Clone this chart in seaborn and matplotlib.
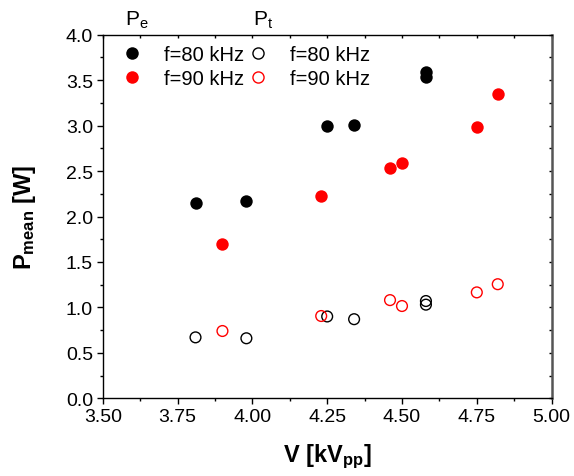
import matplotlib
matplotlib.use("Agg")
import matplotlib.pyplot as plt
import seaborn as sns
import pandas as pd
from matplotlib.lines import Line2D
from matplotlib.ticker import MultipleLocator, FormatStrFormatter

sns.set_theme(style="ticks")
plt.rcParams['font.family'] = ['Liberation Sans', 'DejaVu Sans']
plt.rcParams['mathtext.fontset'] = 'custom'
plt.rcParams['mathtext.rm'] = 'Liberation Sans'
plt.rcParams['mathtext.it'] = 'Liberation Sans'
plt.rcParams['mathtext.bf'] = 'Liberation Sans:bold'
plt.rcParams['text.color'] = 'black'
plt.rcParams['axes.labelcolor'] = 'black'

# Pe (filled) data
v_pe80 = [3.81, 3.98, 4.25, 4.34, 4.58, 4.58]
p_pe80 = [2.15, 2.17, 3.00, 3.01, 3.59, 3.54]
v_pe90 = [3.90, 4.23, 4.46, 4.50, 4.75, 4.82]
p_pe90 = [1.70, 2.23, 2.53, 2.59, 2.98, 3.35]
# Pt (open) data
v_pt80 = [3.81, 3.98, 4.25, 4.34, 4.58, 4.58]
p_pt80 = [0.67, 0.66, 0.90, 0.87, 1.07, 1.03]
v_pt90 = [3.90, 4.23, 4.46, 4.50, 4.75, 4.82]
p_pt90 = [0.74, 0.905, 1.08, 1.015, 1.165, 1.255]

labels = ["f=80 kHz", "f=90 kHz"]

fig = plt.figure(figsize=(5.74, 4.77), dpi=100)
ax = fig.add_axes([0.179, 0.163, 0.782, 0.762])

df_pe80 = pd.DataFrame({"V": v_pe80, "P": p_pe80})
df_pe90 = pd.DataFrame({"V": v_pe90, "P": p_pe90})
df_pt80 = pd.DataFrame({"V": v_pt80, "P": p_pt80})
df_pt90 = pd.DataFrame({"V": v_pt90, "P": p_pt90})

sns.scatterplot(data=df_pe80, x="V", y="P", ax=ax, color="black", s=80, linewidth=0, zorder=3)
sns.scatterplot(data=df_pe90, x="V", y="P", ax=ax, color="#ff0000", s=80, linewidth=0, zorder=3)
sns.scatterplot(data=df_pt80, x="V", y="P", ax=ax, facecolor="none", edgecolor="black", s=60, linewidth=1.0, zorder=3)
sns.scatterplot(data=df_pt90, x="V", y="P", ax=ax, facecolor="none", edgecolor="#ff0000", s=60, linewidth=1.0, zorder=3)

ax.set_xlim(3.5, 5.0)
ax.set_ylim(0.0, 4.0)
ax.xaxis.set_major_locator(MultipleLocator(0.25))
ax.xaxis.set_minor_locator(MultipleLocator(0.125))
ax.yaxis.set_major_locator(MultipleLocator(0.5))
ax.yaxis.set_minor_locator(MultipleLocator(0.25))
ax.xaxis.set_major_formatter(FormatStrFormatter("%.2f"))
ax.yaxis.set_major_formatter(FormatStrFormatter("%.1f"))

ax.tick_params(axis="both", which="major", direction="out", length=4, width=1, labelsize=14, color="black", labelcolor="black", pad=3)
ax.tick_params(axis="both", which="minor", direction="out", length=2.5, width=1, color="black")
ax.tick_params(top=True, right=True, which="both")
for t in ax.xaxis.get_major_ticks() + ax.xaxis.get_minor_ticks():
    t.tick2line.set_markersize(2)
    t.tick2line.set_marker(3)
for t in ax.yaxis.get_major_ticks() + ax.yaxis.get_minor_ticks():
    t.tick2line.set_markersize(2)
    t.tick2line.set_marker(0)

for side in ["left", "bottom", "top"]:
    ax.spines[side].set_color("black")
    ax.spines[side].set_linewidth(1.0)
ax.spines["right"].set_color("#555555")
ax.spines["right"].set_linewidth(1.8)

ax.set_xlabel(r"V [kV$_{\mathbf{pp}}$]", fontsize=17, fontweight="bold", labelpad=12, color="black")
ax.set_ylabel(r"P$_{\mathbf{mean}}$ [W]", fontsize=17, fontweight="bold", labelpad=20, color="black")

handles = [
    Line2D([], [], marker="o", linestyle="none", color="black", markersize=9, markeredgewidth=0),
    Line2D([], [], marker="o", linestyle="none", color="#ff0000", markersize=9, markeredgewidth=0),
    Line2D([], [], marker="o", linestyle="none", markerfacecolor="none", markeredgecolor="black", markersize=8, markeredgewidth=1.0),
    Line2D([], [], marker="o", linestyle="none", markerfacecolor="none", markeredgecolor="#ff0000", markersize=8, markeredgewidth=1.0),
]
leg = ax.legend(handles, labels + labels, ncol=2, loc="upper left",
                bbox_to_anchor=(0.015, 1.005), frameon=False, fontsize=14.5,
                handlelength=1.0, handletextpad=1.1, columnspacing=0.2,
                labelspacing=0.25, borderaxespad=0.3, borderpad=0.3)
for txt in leg.get_texts():
    txt.set_color("black")

fig.text(125/574, 1 - 26/477, r"P$_{\mathrm{e}}$", fontsize=15, va="baseline", ha="left", color="black")
fig.text(253/574, 1 - 26/477, r"P$_{\mathrm{t}}$", fontsize=15, va="baseline", ha="left", color="black")

fig.savefig("out.png", dpi=100, facecolor="white")
